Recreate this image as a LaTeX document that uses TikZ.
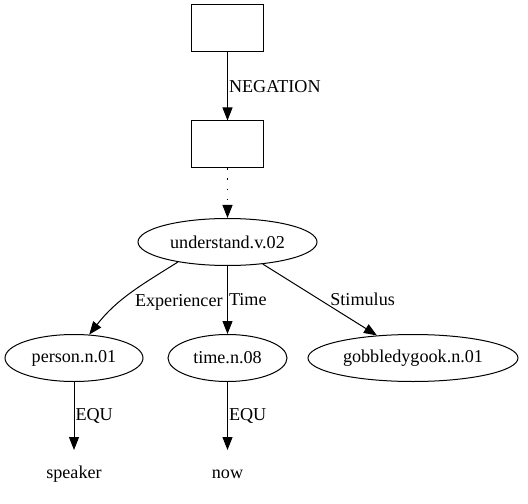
\documentclass[tikz,border=0pt]{standalone}
\usepackage{fontspec}
\setmainfont{Liberation Serif}
\usetikzlibrary{arrows.meta,shapes.geometric}
\tikzset{
  concept/.style={draw,ellipse,inner sep=0pt,minimum height=47bp},
  boxnode/.style={draw,rectangle,minimum width=72bp,minimum height=47bp},
  word/.style={inner sep=0pt,minimum height=47bp},
  role/.style={inner sep=0pt,anchor=west},
  link/.style={-{Triangle[length=13bp,width=10bp]}},
}
\begin{document}
\begin{tikzpicture}[x=1bp,y=1bp,line width=1bp,font=\fontsize{18.2}{21}\selectfont]
    \useasboundingbox (0,0) rectangle (528,-504);
    \node[boxnode] (neg) at (227.5,-28.5) {};
    \node[boxnode] (box) at (227.5,-144.5) {};
    \node[concept,minimum width=179bp] (understand) at (227.5,-242) {understand.v.02};
    \node[concept,minimum width=138bp] (person) at (74,-358) {person.n.01};
    \node[concept,minimum width=119bp] (time) at (227.5,-358) {time.n.08};
    \node[concept,minimum width=210bp] (gobble) at (413,-358) {gobbledygook.n.01};
    \node[word] (speaker) at (74,-474) {speaker};
    \node[word] (now) at (227.5,-474) {now};
    \draw[link] (neg) -- (box) node[role,midway,xshift=1bp] {NEGATION};
    \draw[link,dash pattern=on 1.5bp off 8.5bp] (box) -- (understand);
    \draw[link] (understand.-158) to[out=-148,in=52]
    node[role,pos=.55,xshift=9bp,yshift=-5bp] {Experiencer} (person.57);
    \draw[link] (understand) -- (time) node[role,midway,xshift=1bp] {Time};
    \draw[link] (understand) -- (gobble) node[role,midway,xshift=10bp] {Stimulus};
    \draw[link] (person) -- (speaker) node[role,midway,xshift=1bp] {EQU};
    \draw[link] (time) -- (now) node[role,midway,xshift=1bp] {EQU};
  \end{tikzpicture}
\end{document}
